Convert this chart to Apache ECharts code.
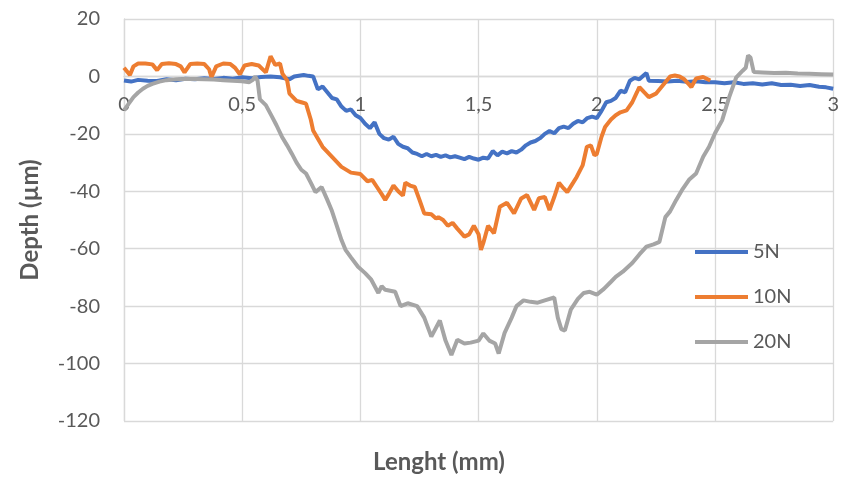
<!DOCTYPE html>
<html>
<head>
<meta charset="utf-8">
<script src="https://cdn.jsdelivr.net/npm/echarts@6/dist/echarts.min.js"></script>
<style>html,body{margin:0;padding:0;background:#fff}#c{width:842px;height:478px}</style>
</head>
<body>
<div id="c"></div>
<script>
var seriesNames = ['5N', '10N', '20N'];
var xTicks = [0, 0.5, 1, 1.5, 2, 2.5, 3];
var yTicks = [-120, -100, -80, -60, -40, -20, 0, 20];

var x5N = [0.00,0.03,0.06,0.10,0.14,0.18,0.22,0.26,0.30,0.34,0.38,0.42,0.46,0.50,0.54,0.58,0.62,0.66,0.70,0.72,0.76,0.78,0.80,0.82,0.84,0.86,0.88,0.90,0.92,0.94,0.96,0.98,1.00,1.02,1.04,1.06,1.08,1.10,1.12,1.14,1.16,1.18,1.20,1.22,1.24,1.26,1.28,1.30,1.32,1.34,1.36,1.38,1.40,1.42,1.44,1.46,1.48,1.50,1.52,1.54,1.56,1.58,1.60,1.62,1.64,1.66,1.68,1.70,1.72,1.74,1.76,1.78,1.80,1.82,1.84,1.86,1.88,1.90,1.92,1.94,1.96,1.98,2.00,2.02,2.04,2.06,2.08,2.10,2.12,2.14,2.16,2.18,2.20,2.21,2.22,2.26,2.30,2.34,2.38,2.42,2.46,2.50,2.54,2.58,2.62,2.66,2.70,2.74,2.78,2.82,2.86,2.90,2.94,2.97,3.00];
var y5N = [-1.4,-1.8,-1.2,-1.5,-1.6,-1.0,-1.3,-0.8,-1.0,-0.6,-0.9,-0.5,-0.8,-0.3,-0.6,-0.2,0.0,-0.3,-1.0,0.0,0.5,0.2,0.0,-4.5,-3.5,-5.5,-7.5,-8.0,-10.5,-12.0,-11.5,-13.5,-14.5,-16.5,-18.0,-16.0,-20.0,-21.5,-22.0,-21.0,-23.5,-24.5,-25.0,-26.5,-27.0,-27.8,-27.0,-27.8,-27.3,-28.0,-27.5,-28.2,-27.8,-28.3,-28.8,-28.0,-28.6,-29.0,-28.3,-28.6,-26.0,-27.5,-26.2,-26.8,-26.0,-26.5,-25.5,-24.0,-23.0,-22.5,-21.5,-20.0,-19.0,-19.8,-18.0,-17.5,-18.0,-16.5,-15.5,-16.0,-14.5,-14.0,-14.5,-12.0,-9.0,-8.5,-7.5,-5.0,-5.5,-1.5,-0.5,-1.0,0.5,1.2,-1.5,-1.6,-1.8,-1.5,-1.9,-1.7,-2.0,-2.0,-2.4,-2.0,-2.6,-2.4,-2.8,-2.4,-3.0,-2.9,-3.3,-3.0,-3.6,-3.8,-4.3];

var x10N = [0.00,0.025,0.04,0.06,0.09,0.12,0.14,0.16,0.19,0.22,0.24,0.256,0.28,0.31,0.34,0.36,0.37,0.39,0.42,0.45,0.47,0.49,0.51,0.54,0.57,0.60,0.62,0.64,0.66,0.67,0.69,0.70,0.73,0.75,0.77,0.79,0.80,0.84,0.88,0.92,0.96,1.00,1.03,1.05,1.07,1.09,1.105,1.12,1.14,1.16,1.18,1.19,1.21,1.23,1.25,1.27,1.30,1.32,1.33,1.35,1.37,1.39,1.41,1.44,1.46,1.48,1.50,1.51,1.52,1.54,1.565,1.59,1.62,1.65,1.68,1.705,1.735,1.755,1.78,1.80,1.82,1.84,1.86,1.875,1.90,1.915,1.94,1.958,1.975,1.99,2.00,2.02,2.035,2.06,2.08,2.10,2.126,2.15,2.17,2.18,2.20,2.22,2.25,2.27,2.29,2.31,2.33,2.35,2.37,2.39,2.40,2.42,2.45,2.48];
var y10N = [3.0,0.5,3.5,4.5,4.5,4.2,2.2,4.3,4.6,4.3,3.5,1.4,4.3,4.5,4.3,2.5,-0.3,3.5,4.5,4.3,3.0,0.7,3.8,4.3,3.8,1.4,7.0,4.0,4.5,1.0,-1.4,-6.0,-8.5,-9.0,-9.5,-15.0,-18.8,-24.5,-28.0,-31.5,-33.5,-34.0,-36.5,-36.0,-38.5,-41.0,-43.0,-41.0,-38.0,-40.0,-41.5,-37.0,-38.0,-38.5,-43.0,-47.7,-48.0,-49.5,-49.0,-50.0,-52.0,-51.0,-53.0,-55.8,-55.0,-52.0,-55.0,-60.4,-58.0,-52.0,-54.6,-45.4,-44.0,-47.7,-42.5,-41.3,-46.5,-42.4,-42.0,-46.5,-42.0,-37.0,-39.0,-40.3,-37.0,-35.0,-31.0,-24.5,-24.0,-27.5,-27.0,-21.0,-17.6,-15.0,-13.5,-12.5,-11.8,-9.0,-5.5,-3.7,-5.5,-7.2,-6.0,-4.0,-2.0,0.0,0.3,0.0,-1.0,-2.8,-3.7,-0.7,-0.2,-1.4];

var x20N = [0.00,0.02,0.04,0.06,0.08,0.10,0.12,0.15,0.18,0.22,0.26,0.30,0.34,0.38,0.42,0.46,0.50,0.53,0.545,0.555,0.565,0.575,0.60,0.626,0.645,0.668,0.69,0.71,0.73,0.75,0.77,0.79,0.81,0.836,0.86,0.878,0.90,0.92,0.937,0.96,0.99,1.02,1.046,1.076,1.09,1.105,1.147,1.17,1.20,1.24,1.27,1.30,1.336,1.36,1.385,1.41,1.44,1.466,1.50,1.52,1.545,1.57,1.585,1.61,1.64,1.66,1.69,1.72,1.75,1.78,1.82,1.835,1.85,1.865,1.89,1.92,1.945,1.97,2.00,2.03,2.06,2.08,2.11,2.15,2.18,2.21,2.24,2.265,2.29,2.31,2.336,2.36,2.39,2.42,2.45,2.475,2.50,2.53,2.56,2.59,2.617,2.63,2.64,2.65,2.664,2.70,2.75,2.80,2.85,2.90,2.95,3.00];
var y20N = [-11.8,-9.5,-7.2,-5.6,-4.3,-3.3,-2.6,-1.8,-1.3,-1.0,-0.9,-0.9,-1.0,-1.1,-1.3,-1.5,-1.7,-2.0,-1.2,0.0,-1.5,-8.0,-10.0,-14.0,-17.0,-21.0,-24.0,-26.9,-30.0,-32.5,-33.8,-37.0,-40.3,-38.5,-43.0,-46.5,-52.0,-57.0,-60.4,-63.0,-66.3,-68.5,-70.8,-75.4,-73.0,-74.3,-75.0,-80.0,-79.0,-80.0,-84.0,-90.6,-85.0,-92.0,-97.0,-91.7,-93.0,-92.7,-92.0,-89.5,-92.0,-93.0,-96.5,-89.3,-84.0,-80.0,-78.0,-78.5,-78.8,-78.0,-77.0,-84.0,-88.0,-88.5,-81.2,-77.5,-75.4,-75.0,-76.0,-74.0,-71.5,-69.8,-68.0,-65.0,-62.0,-59.3,-58.5,-57.6,-49.0,-47.0,-43.0,-39.6,-36.0,-33.8,-28.0,-24.5,-19.8,-15.3,-7.2,-0.3,2.0,3.0,7.3,6.6,1.5,1.4,1.2,1.3,1.0,0.9,0.8,0.7];

function pairs(xs, ys) { return xs.map(function (x, i) { return [x, ys[i]]; }); }

var colors = ['#4472C4', '#ED7D31', '#A5A5A5'];
var font = 'Lato, Carlito, "Open Sans", sans-serif';
var gridColor = '#d9d9d9';
var G = {left: 124, right: 4, top: 19, bottom: 57};
var H = 478;
var yMin = yTicks[0], yMax = yTicks[yTicks.length - 1];
var plotH = H - G.top - G.bottom;
var zeroPix = G.top + plotH * (yMax - 0) / (yMax - yMin);
var xAxisOffset = -((H - G.bottom) - zeroPix);

var chart = echarts.init(document.getElementById('c'), null, {renderer: 'canvas'});
chart.setOption({
  animation: false,
  color: colors,
  grid: {left: G.left, right: G.right, top: G.top, bottom: G.bottom, containLabel: false},
  xAxis: {
    type: 'value', min: xTicks[0], max: xTicks[xTicks.length - 1], interval: 0.5,
    position: 'bottom', offset: xAxisOffset,
    axisLine: {show: true, onZero: false, lineStyle: {color: gridColor, width: 1.3}},
    axisTick: {show: false},
    splitLine: {show: true, lineStyle: {color: gridColor, width: 1.3}},
    axisLabel: {margin: 18, fontSize: 20, color: '#595959', fontFamily: font,
      formatter: function (v) { return String(v).replace('.', ','); }}
  },
  yAxis: {
    type: 'value', min: yMin, max: yMax, interval: 20,
    axisLine: {show: true, lineStyle: {color: gridColor, width: 1.3}},
    axisTick: {show: false},
    splitLine: {show: true, lineStyle: {color: gridColor, width: 1.3}},
    axisLabel: {margin: 24, fontSize: 20, color: '#595959', fontFamily: font}
  },
  legend: {
    orient: 'vertical', left: 690, top: 236, itemWidth: 53, itemHeight: 4, itemGap: 23,
    icon: 'rect',
    textStyle: {fontSize: 20, color: '#595959', fontFamily: font, lineHeight: 22},
    data: seriesNames
  },
  graphic: [
    {type: 'text', style: {text: 'Lenght (mm)', font: 'bold 24px ' + font, fill: '#595959', textAlign: 'center', textVerticalAlign: 'middle'}, position: [439, 462]},
    {type: 'text', style: {text: 'Depth (µm)', font: 'bold 24px ' + font, fill: '#595959', textAlign: 'center', textVerticalAlign: 'middle'}, position: [30, 220], rotation: Math.PI / 2}
  ],
  series: [
    {name: seriesNames[0], type: 'line', data: pairs(x5N, y5N), showSymbol: false, lineStyle: {width: 4}},
    {name: seriesNames[1], type: 'line', data: pairs(x10N, y10N), showSymbol: false, lineStyle: {width: 4}},
    {name: seriesNames[2], type: 'line', data: pairs(x20N, y20N), showSymbol: false, lineStyle: {width: 4}}
  ]
});
</script>
</body>
</html>
